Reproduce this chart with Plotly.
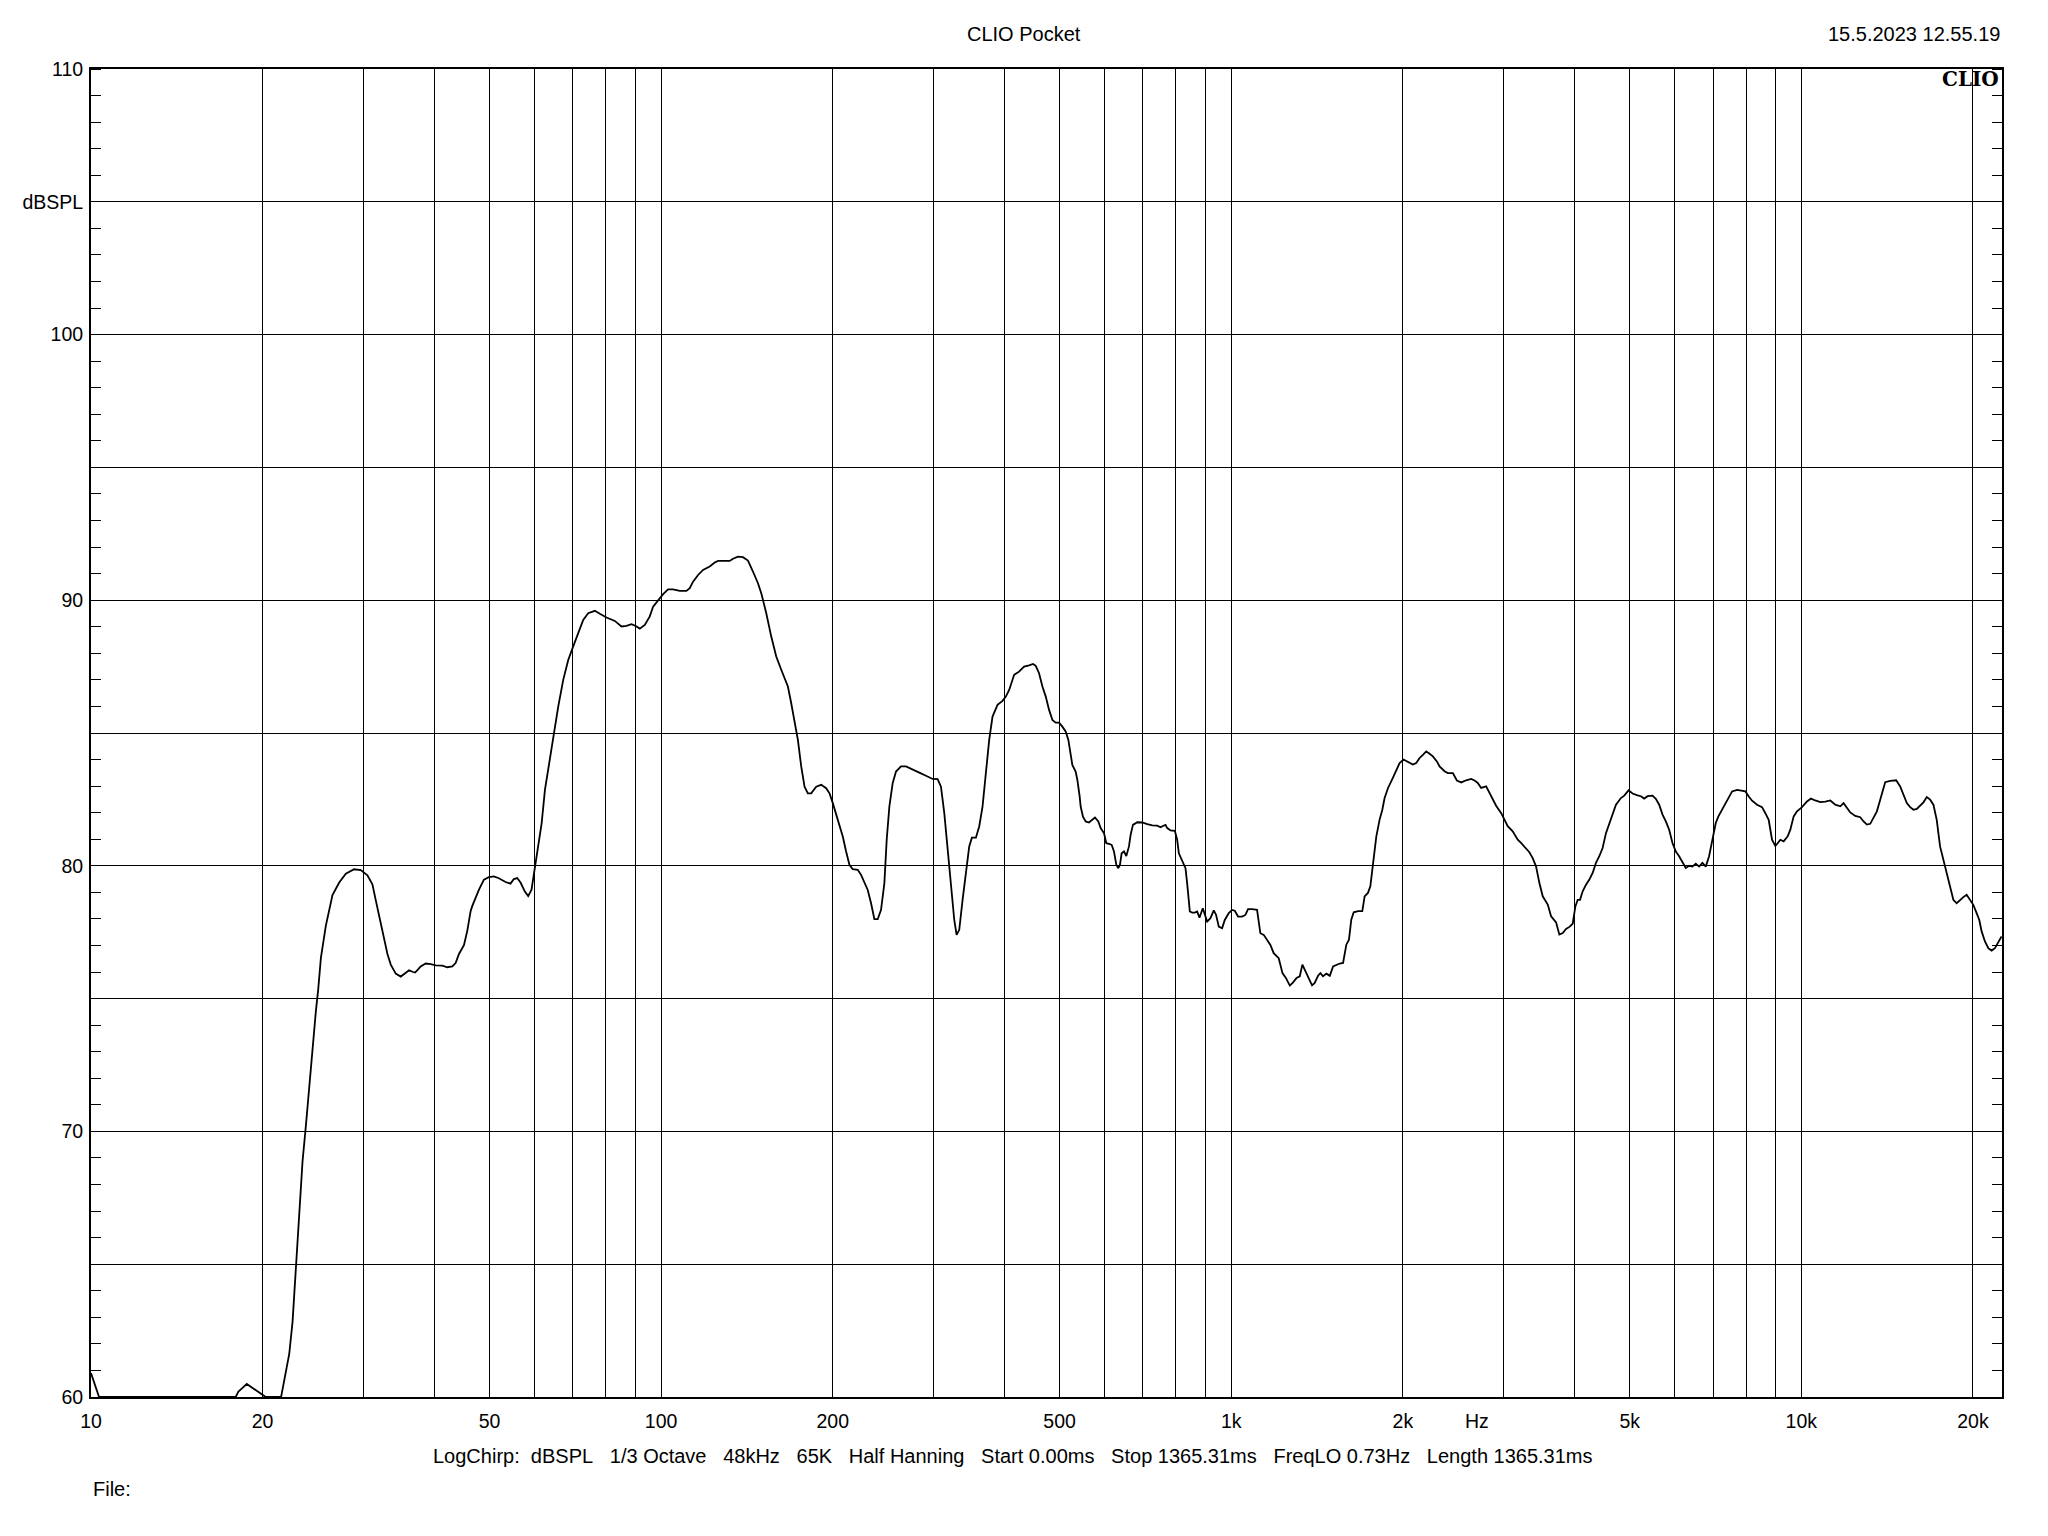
import plotly.graph_objects as go

# ---- measured curve (frequency in Hz, level in dB SPL) ----
freq_hz = [
    10.0, 10.33, 17.94, 18.13, 18.76, 19.40, 20.25, 21.55,
    22.27, 22.57, 22.88, 23.19, 23.50, 23.82, 24.14, 24.47, 24.80, 25.03, 25.31, 25.82,
    26.52, 27.25, 27.99, 28.94, 29.73, 30.54, 31.16, 31.59, 32.23, 32.67, 33.11, 33.56,
    34.24, 34.94, 35.65, 36.13, 36.62, 37.02, 37.37, 37.87, 38.64, 39.43, 40.23, 41.33,
    42.17, 43.03, 43.61, 44.20, 45.10, 45.71, 46.33, 46.65, 47.92, 48.89, 49.88, 50.90,
    51.93, 53.35, 54.43, 55.17, 55.92, 56.68, 57.68, 58.46, 59.25, 59.89, 60.38, 61.03,
    61.72, 62.55, 63.83, 65.13, 66.01, 67.35, 68.72, 70.12, 71.55, 73.01, 74.49, 76.52,
    78.08, 80.21, 82.95, 85.21, 86.94, 88.72, 90.28, 91.75, 93.63, 95.53, 96.83, 98.80,
    100.81, 102.86, 104.96, 107.82, 110.76, 112.26, 113.78, 116.10, 118.46, 121.69, 124.17,
    125.85, 131.91, 133.69, 136.41, 139.19, 142.02, 144.92, 147.87, 149.87, 152.92, 156.03,
    159.21, 162.45, 166.88, 169.14, 171.43, 173.75, 176.10, 178.48, 180.90, 183.34, 187.08,
    190.89, 194.77, 197.41, 200.06, 202.77, 205.51, 208.29, 211.11, 213.96, 216.85, 221.27,
    224.27, 227.30, 230.38, 233.49, 236.65, 239.86, 243.09, 246.38, 248.71, 251.40, 254.80,
    258.25, 263.51, 268.88, 276.21, 283.74, 291.48, 299.43, 305.53, 309.66, 313.85, 318.09,
    322.39, 326.75, 329.84, 333.40, 337.91, 342.48, 347.11, 350.86, 356.57, 361.39, 366.28,
    371.24, 376.26, 381.35, 389.11, 397.04, 402.41, 407.85, 416.16,
    424.5, 433.2, 442.0, 449.2, 454.1, 460.2, 466.5, 472.8, 479.2, 485.7, 492.2, 498.9,
    505.6, 512.4, 518.0, 522.9, 526.4, 533.5, 537.1, 542.2, 544.4, 549.5, 555.5, 563.0,
    570.6, 576.8, 584.6, 590.2, 598.2, 603.8, 610.4, 617.0, 622.8, 628.7, 633.8, 638.1,
    642.4, 648.5, 654.6, 661.7, 666.1, 672.4, 684.3, 698.2, 712.4, 726.9, 741.7, 751.7,
    758.8, 767.0, 772.2, 782.6, 796.4, 803.9, 809.4, 820.3, 831.4, 837.0, 846.1, 854.1,
    863.3, 871.5, 879.7, 891.6, 898.8, 907.3, 919.6, 932.1, 940.8, 951.0, 963.9, 974.3,
    990.2, 1003.6, 1014.4, 1028.1, 1044.9, 1059.0, 1070.5, 1087.9, 1110.0, 1117.5, 1125.0,
    1140.3, 1155.7, 1171.4, 1187.2, 1211.4,
    1230, 1247, 1267, 1284, 1302, 1319, 1333, 1346, 1359, 1370, 1386, 1401, 1420, 1434,
    1449, 1469, 1489, 1509, 1529, 1550, 1571, 1582, 1592, 1609, 1624, 1640, 1669, 1698,
    1714, 1737, 1754, 1768, 1785, 1797, 1821, 1841, 1858, 1884, 1921, 1960, 1974, 2006,
    2041, 2083, 2111, 2140, 2169, 2198, 2228, 2258, 2295, 2320, 2367, 2399, 2448, 2488,
    2532, 2583, 2636, 2672, 2707, 2744, 2800, 2837, 2876, 2915, 2974, 3014, 3055, 3117,
    3181, 3224, 3267, 3334, 3379, 3425, 3472, 3519, 3591, 3640, 3714, 3763, 3815, 3866,
    3919, 3972, 4015, 4053, 4091, 4135, 4191, 4248, 4305, 4363, 4422, 4482, 4543, 4604,
    4667, 4730, 4826, 4891, 4977, 5058, 5161, 5231, 5302, 5374, 5483, 5557, 5632, 5709,
    5786, 5864, 5943, 6024, 6105, 6188, 6271, 6356, 6442, 6530, 6618, 6707, 6798, 6890,
    6983, 7078, 7154,
    7262, 7410, 7561, 7715, 7872, 7979, 8087, 8196, 8363, 8533, 8648, 8765, 8884, 9004,
    9089, 9187, 9312, 9464, 9566, 9696, 9827, 10027, 10231, 10397, 10580, 10796, 11016,
    11241, 11470, 11704, 11862, 12023, 12186, 12434, 12687, 12858, 13032, 13209, 13388,
    13569, 13752, 13901, 14032, 14318, 14669, 14907, 15109, 15313, 15520, 15730, 15943,
    16158, 16376, 16598, 16822, 17049, 17279, 17513, 17750, 17990, 18233, 18479, 18729,
    18982, 19239, 19499, 19763, 20030, 20300, 20520, 20714, 20994, 21278, 21566, 21857,
    22153, 22452,
]

spl_db = [
    60.9, 60.0, 60.0, 60.2, 60.49, 60.26, 60.0, 60.0,
    61.62, 62.83, 64.85, 66.86, 68.88, 70.22, 71.70, 73.18, 74.53, 75.33, 76.54, 77.75,
    78.90, 79.37, 79.70, 79.87, 79.84, 79.64, 79.30, 78.70, 77.89, 77.22, 76.68, 76.28,
    75.94, 75.83, 75.98, 76.07, 76.01, 75.98, 76.07, 76.21, 76.32, 76.30, 76.25, 76.24,
    76.18, 76.21, 76.34, 76.68, 77.01, 77.55, 78.29, 78.49, 79.10, 79.48, 79.57, 79.60,
    79.53, 79.39, 79.33, 79.50, 79.54, 79.37, 79.03, 78.86, 79.10, 79.77, 80.31, 80.91,
    81.60, 82.86, 84.11, 85.24, 86.00, 87.00, 87.75, 88.26, 88.76, 89.26, 89.51, 89.60,
    89.49, 89.35, 89.22, 89.01, 89.03, 89.10, 89.03, 88.93, 89.07, 89.39, 89.76, 90.01,
    90.23, 90.41, 90.41, 90.35, 90.35, 90.45, 90.70, 90.95, 91.14, 91.27, 91.42,
    91.48, 91.48, 91.56, 91.64, 91.62, 91.49, 91.08, 90.64, 90.26, 89.51, 88.63,
    87.88, 87.38, 86.75, 86.12, 85.49, 84.74, 83.74, 82.98, 82.73, 82.73, 82.98,
    83.05, 82.92, 82.73, 82.36, 81.92, 81.54, 81.10, 80.54, 80.04, 79.87, 79.85,
    79.66, 79.34, 79.09, 78.59, 77.99, 77.99, 78.34, 79.34, 80.98, 82.23, 83.11,
    83.55, 83.74, 83.74, 83.64, 83.51, 83.39, 83.27, 83.26, 82.98, 81.98, 80.73,
    79.34, 77.96, 77.40, 77.59, 78.72, 79.85, 80.73, 81.06, 81.06, 81.48, 82.23,
    83.49, 84.74, 85.62, 86.06, 86.21, 86.37, 86.62, 87.19,
    87.31, 87.50, 87.55, 87.60, 87.53, 87.25, 86.75, 86.37, 85.87, 85.49, 85.39, 85.39,
    85.24, 85.06, 84.74, 84.24, 83.80, 83.55, 83.24, 82.61, 82.23, 81.85, 81.67, 81.63,
    81.75, 81.82, 81.67, 81.42, 81.23, 80.85, 80.83, 80.79, 80.54, 80.04, 79.91, 80.04,
    80.47, 80.54, 80.37, 80.73, 81.16, 81.54, 81.64, 81.63, 81.57, 81.52, 81.51, 81.45,
    81.50, 81.54, 81.42, 81.33, 81.32, 80.98, 80.47, 80.16, 79.91, 79.34, 78.28, 78.24,
    78.24, 78.28, 78.05, 78.40, 78.15, 77.90, 78.03, 78.32, 78.15, 77.71, 77.65, 77.96,
    78.22, 78.34, 78.31, 78.09, 78.09, 78.15, 78.37, 78.37, 78.34, 77.96, 77.46,
    77.40, 77.21, 77.02, 76.71, 76.52,
    75.96, 75.78, 75.49, 75.61, 75.78, 75.84, 76.28, 76.09, 75.90, 75.78, 75.50, 75.59, 75.86, 75.96,
    75.84, 75.94, 75.86, 76.21, 76.28, 76.32, 76.34, 76.65, 77.03, 77.22, 77.97, 78.25, 78.29, 78.29,
    78.85, 78.98, 79.23, 79.85, 80.48, 81.11, 81.74, 82.11, 82.55, 82.93, 83.31, 83.68, 83.87, 84.00,
    83.91, 83.81, 83.87, 84.06, 84.18, 84.31, 84.22, 84.12, 83.93, 83.74, 83.56, 83.49, 83.49, 83.21,
    83.14, 83.22, 83.27, 83.21, 83.12, 82.93, 82.99, 82.74, 82.49, 82.26, 81.99, 81.74, 81.49, 81.30,
    80.98, 80.86, 80.73, 80.51, 80.29, 79.98, 79.35, 78.85, 78.54, 78.10, 77.87, 77.41, 77.47, 77.62,
    77.70, 77.82, 78.47, 78.72, 78.72, 79.04, 79.29, 79.48, 79.73, 80.11, 80.36, 80.67, 81.23, 81.61,
    81.99, 82.30, 82.55, 82.64, 82.84, 82.72, 82.65, 82.62, 82.53, 82.62, 82.64, 82.52, 82.30, 81.93,
    81.67, 81.36, 80.86, 80.54, 80.36, 80.11, 79.92, 80.00, 79.97, 80.08, 79.97, 80.11, 79.97, 80.36,
    80.98, 81.61, 81.86,
    82.11, 82.49, 82.80, 82.86, 82.84, 82.80, 82.61, 82.45, 82.30, 82.21, 81.98, 81.73, 80.98, 80.75,
    80.85, 80.98, 80.92, 81.11, 81.36, 81.86, 82.05, 82.21, 82.42, 82.53, 82.46, 82.40, 82.42,
    82.46, 82.30, 82.24, 82.36, 82.17, 82.01, 81.88, 81.83, 81.67, 81.55, 81.58, 81.80,
    82.05, 82.49, 82.80, 83.15, 83.20, 83.22, 82.99, 82.68, 82.36, 82.21, 82.11, 82.14,
    82.26, 82.39, 82.59, 82.49, 82.30, 81.73, 80.73, 80.23, 79.72, 79.16, 78.72, 78.59,
    78.72, 78.82, 78.91, 78.72, 78.53, 78.22, 77.96, 77.53, 77.15, 76.90, 76.81, 76.90,
    77.15, 77.34,
]

# ---- axis ticks / labels ----
x_grid_vals = [10, 20, 30, 40, 50, 60, 70, 80, 90,
               100, 200, 300, 400, 500, 600, 700, 800, 900,
               1000, 2000, 3000, 4000, 5000, 6000, 7000, 8000, 9000,
               10000, 20000]
x_label_map = {10: "10", 20: "20", 50: "50", 100: "100", 200: "200", 500: "500",
               1000: "1k", 2000: "2k", 5000: "5k", 10000: "10k", 20000: "20k"}
x_tick_text = [x_label_map.get(v, "") for v in x_grid_vals]

y_grid_vals = [60, 65, 70, 75, 80, 85, 90, 95, 100, 105, 110]
y_tick_text = ["60", "", "70", "", "80", "", "90", "", "100", "dBSPL", "110"]

title_text = "CLIO Pocket"
date_text = "15.5.2023 12.55.19"
brand_text = "CLIO"
unit_text = "Hz"
G = "\u00a0\u00a0 "
info_text = ("LogChirp:\u00a0 dBSPL" + G + "1/3 Octave" + G + "48kHz" + G + "65K" + G +
             "Half Hanning" + G + "Start 0.00ms" + G + "Stop 1365.31ms" + G +
             "FreqLO 0.73Hz" + G + "Length 1365.31ms")
file_text = "File:"

FONT = "Liberation Sans, Arial, sans-serif"
TICK_SIZE = 19.5
TEXT_SIZE = 20

fig = go.Figure()
fig.add_trace(go.Scatter(
    x=freq_hz, y=spl_db, mode="lines",
    line=dict(color="black", width=1.8),
    showlegend=False, hoverinfo="skip",
))
# empty trace to bind the right-hand tick axis
fig.add_trace(go.Scatter(x=[], y=[], yaxis="y2", showlegend=False))

W, H = 2048, 1536
L, R, T, B = 91, 46, 69, 139

fig.update_layout(
    width=W, height=H,
    margin=dict(l=L, r=R, t=T, b=B, pad=0),
    paper_bgcolor="white", plot_bgcolor="white",
    font=dict(family=FONT, size=TICK_SIZE, color="black"),
    xaxis=dict(
        type="log", range=[1, 4.352],
        tickmode="array", tickvals=x_grid_vals, ticktext=x_tick_text,
        showgrid=True, gridcolor="black", gridwidth=1,
        ticks="", ticklabelstandoff=6,
        showline=True, linecolor="black", linewidth=2, mirror=True,
        zeroline=False, tickfont=dict(family=FONT, size=TICK_SIZE, color="black"),
    ),
    yaxis=dict(
        range=[60, 110],
        tickmode="array", tickvals=y_grid_vals, ticktext=y_tick_text,
        showgrid=True, gridcolor="black", gridwidth=1,
        ticks="", ticklabelstandoff=2,
        minor=dict(dtick=1, ticks="inside", ticklen=10, tickcolor="black", tickwidth=1, showgrid=False),
        showline=True, linecolor="black", linewidth=2, mirror=True,
        zeroline=False, tickfont=dict(family=FONT, size=TICK_SIZE, color="black"),
    ),
    yaxis2=dict(
        range=[60, 110], overlaying="y", side="right",
        tickmode="array", tickvals=y_grid_vals, showticklabels=False,
        ticks="", showgrid=False, zeroline=False, showline=False,
        minor=dict(dtick=1, ticks="inside", ticklen=10, tickcolor="black", tickwidth=1, showgrid=False),
    ),
)

PW = W - L - R
PH = H - T - B


def px(xpix):
    return (xpix - L) / PW


def py(ypix):
    return (T + PH - ypix) / PH


anns = [
    dict(text=title_text, x=px(1024), y=py(34), xanchor="center", yanchor="middle",
         font=dict(family=FONT, size=TEXT_SIZE, color="black")),
    dict(text=date_text, x=px(2002), y=py(34), xanchor="right", yanchor="middle",
         font=dict(family=FONT, size=TEXT_SIZE, color="black")),
    dict(text="<b>" + brand_text + "</b>", x=px(2001), y=py(79), xanchor="right", yanchor="middle",
         font=dict(family="DejaVu Serif, serif", size=20, color="black")),
    dict(text=unit_text, x=px(1477), y=py(1421), xanchor="center", yanchor="middle",
         font=dict(family=FONT, size=TICK_SIZE, color="black")),
    dict(text=info_text, x=px(1013), y=py(1456), xanchor="center", yanchor="middle",
         font=dict(family=FONT, size=TEXT_SIZE, color="black")),
    dict(text=file_text, x=px(91), y=py(1489), xanchor="left", yanchor="middle",
         font=dict(family=FONT, size=TEXT_SIZE, color="black")),
]
for a in anns:
    a.update(xref="paper", yref="paper", showarrow=False)
fig.update_layout(annotations=anns)

fig.write_html("out.html", config={"displayModeBar": False},
               post_script="document.body.style.margin='0';")
